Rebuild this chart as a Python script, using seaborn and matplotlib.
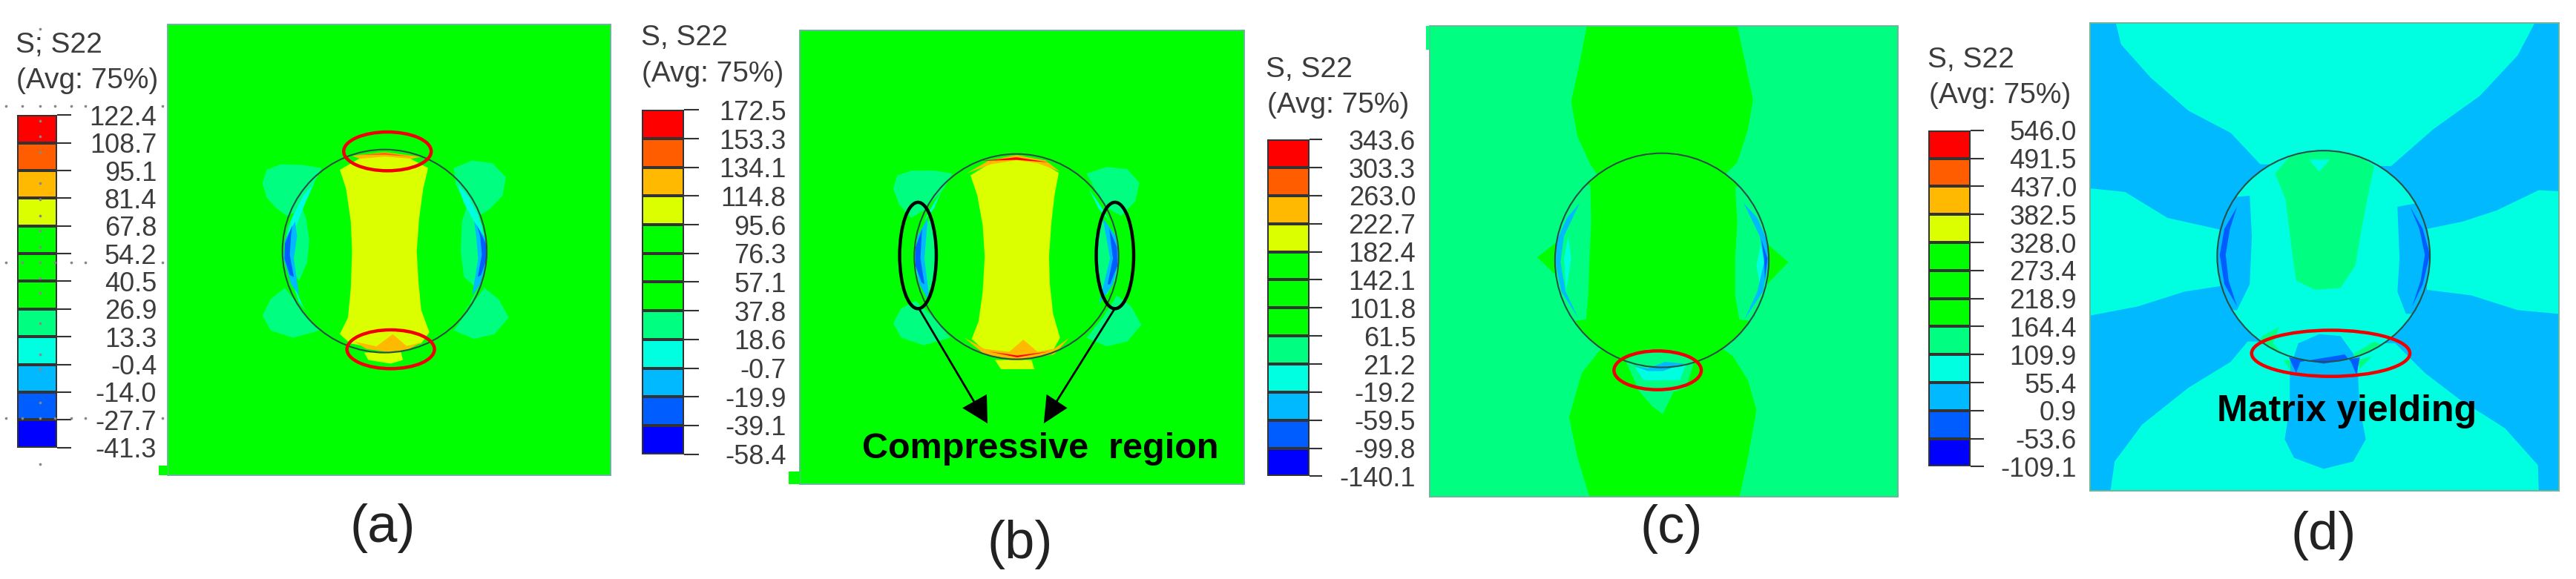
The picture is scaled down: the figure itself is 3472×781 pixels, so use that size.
import numpy as np
import matplotlib
matplotlib.use('Agg')
import matplotlib.pyplot as plt
from matplotlib.colors import ListedColormap, BoundaryNorm
from matplotlib.patches import Ellipse
import seaborn as sns

plt.rcParams['font.family'] = ['Liberation Sans', 'DejaVu Sans']

W, H = 3472, 781

# contour band colours, bottom band first
RED, ORANGE, AMBER, YELLOW = '#ff0000', '#ff5d00', '#ffb900', '#dcff00'
GREEN, TEAL, CYAN, SKY, BLUE, NAVY = '#00ff00', '#00ff80', '#00ffe0', '#00b9ff', '#005dff', '#0000ff'
band_colours = [NAVY, BLUE, SKY, CYAN, TEAL, GREEN, GREEN, GREEN, YELLOW, AMBER, ORANGE, RED]
text_col = '#3c3c3c'
edge_col = '#2d4f45'

# colour bar tick values, top to bottom
levels_a = [122.4, 108.7, 95.1, 81.4, 67.8, 54.2, 40.5, 26.9, 13.3, -0.4, -14.0, -27.7, -41.3]
levels_b = [172.5, 153.3, 134.1, 114.8, 95.6, 76.3, 57.1, 37.8, 18.6, -0.7, -19.9, -39.1, -58.4]
levels_c = [343.6, 303.3, 263.0, 222.7, 182.4, 142.1, 101.8, 61.5, 21.2, -19.2, -59.5, -99.8, -140.1]
levels_d = [546.0, 491.5, 437.0, 382.5, 328.0, 273.4, 218.9, 164.4, 109.9, 55.4, 0.9, -53.6, -109.1]

crop_a = (0, 1.823)
crop_b = (850, 1.823)
crop_c = (1690, 1.742)
crop_d = (2580, 1.758)
y_scale = 2.008

# field x0, x1, y0, y1
box_a = (412, 1500, 67, 1288)
box_b = (416, 1508, 82, 1312)
box_c = (412, 1512, 70, 1346)
box_d = (416, 1527, 63, 1329)

# colour bar x0, x1, y0, y1, tick end, label right
bar_a = (42, 140, 312, 1212, 175, 385)
bar_b = (28, 132, 298, 1230, 168, 382)
bar_c = (32, 130, 378, 1290, 160, 380)
bar_d = (34, 133, 353, 1264, 165, 385)

# inclusion outline cx, cy, rx, ry
circle_a = (945, 680, 251, 275)
circle_b = (948, 695, 251, 278)
circle_c = (958, 705, 251, 290)
circle_d = (970, 694, 252, 286)

yellow_a = [(835, 460), (850, 510), (862, 600), (865, 680), (862, 780), (855, 860), (835, 905), (860, 930),
            (950, 948), (1035, 930), (1055, 900), (1035, 840), (1028, 760), (1024, 680), (1030, 590),
            (1040, 510), (1052, 455), (1000, 425), (945, 418), (890, 425)]
yellow_b = [(835, 475), (852, 530), (865, 610), (870, 695), (865, 790), (855, 870), (838, 918), (865, 945),
            (950, 965), (1040, 945), (1055, 915), (1038, 850), (1030, 770), (1028, 695), (1034, 600),
            (1042, 525), (1052, 468), (1000, 435), (948, 428), (890, 438)]

regions_a = [
    (TEAL, [(790, 455), (745, 447), (690, 445), (655, 460), (645, 495), (655, 535), (680, 565), (705, 585), (725, 575), (770, 500)]),
    (TEAL, [(1115, 455), (1160, 435), (1210, 442), (1243, 480), (1235, 530), (1205, 565), (1170, 590), (1150, 570), (1120, 500)]),
    (TEAL, [(700, 780), (665, 810), (645, 855), (665, 895), (720, 915), (785, 895), (750, 850)]),
    (TEAL, [(1190, 780), (1225, 810), (1250, 860), (1215, 905), (1165, 918), (1115, 895), (1150, 840)]),
    (TEAL, [(735, 545), (752, 590), (760, 650), (755, 710), (735, 760), (705, 720), (700, 680), (705, 620)]),
    (TEAL, [(1150, 550), (1135, 600), (1132, 680), (1140, 750), (1165, 775), (1195, 700), (1185, 610)]),
    (YELLOW, yellow_a),
    (CYAN, [(772, 495), (745, 530), (718, 590), (705, 640), (728, 610), (750, 550)]),
    (CYAN, [(1125, 500), (1150, 530), (1178, 590), (1190, 640), (1165, 600), (1140, 550)]),
    (CYAN, [(720, 770), (745, 830), (760, 850), (735, 820)]),
    (CYAN, [(1180, 770), (1150, 830), (1130, 855), (1160, 815)]),
    (SKY, [(725, 600), (700, 650), (697, 700), (715, 770), (735, 800), (722, 700), (730, 640)]),
    (SKY, [(1165, 600), (1195, 650), (1198, 700), (1180, 770), (1160, 800), (1175, 700), (1170, 640)]),
    (BLUE, [(718, 610), (700, 660), (699, 700), (712, 745), (722, 750), (712, 690), (715, 640)]),
    (BLUE, [(1172, 610), (1194, 660), (1196, 700), (1182, 745), (1174, 750), (1184, 690), (1180, 640)]),
    (AMBER, [(865, 422), (945, 412), (1035, 425), (1010, 430), (945, 424), (885, 430)]),
    (ORANGE, [(885, 420), (945, 414), (1010, 424), (945, 419)]),
    (AMBER, [(870, 925), (925, 938), (965, 905), (1000, 938), (1040, 925), (1000, 948), (950, 953), (900, 945)]),
    (YELLOW, [(895, 955), (905, 975), (960, 985), (990, 975), (985, 953)]),
]

regions_b = [
    (TEAL, [(790, 470), (745, 462), (690, 462), (655, 475), (645, 510), (660, 555), (690, 590), (720, 570), (770, 510)]),
    (TEAL, [(1120, 470), (1170, 452), (1220, 458), (1250, 495), (1240, 545), (1205, 585), (1165, 560)]),
    (TEAL, [(700, 815), (665, 835), (645, 875), (665, 915), (720, 935), (785, 915), (745, 860)]),
    (TEAL, [(1195, 800), (1230, 830), (1255, 880), (1220, 925), (1170, 938), (1120, 915), (1160, 860)]),
    (TEAL, [(735, 590), (750, 640), (752, 700), (745, 770), (725, 800), (700, 740), (700, 670)]),
    (TEAL, [(1155, 590), (1142, 640), (1140, 700), (1150, 770), (1170, 800), (1198, 740), (1198, 670)]),
    (YELLOW, yellow_b),
    (YELLOW, [(895, 975), (910, 1000), (992, 1000), (985, 975)]),
    (CYAN, [(765, 515), (740, 560), (720, 600), (745, 565)]),
    (CYAN, [(1125, 510), (1150, 550), (1178, 600), (1150, 565)]),
    (SKY, [(730, 590), (705, 640), (697, 700), (710, 770), (735, 820), (722, 700)]),
    (SKY, [(1160, 590), (1192, 640), (1200, 700), (1185, 770), (1150, 825), (1178, 700)]),
    (BLUE, [(716, 620), (700, 670), (700, 720), (715, 765), (722, 770), (712, 700)]),
    (BLUE, [(1176, 620), (1195, 670), (1196, 720), (1178, 770), (1172, 770), (1185, 700)]),
    (AMBER, [(825, 470), (880, 435), (948, 420), (1020, 435), (1055, 465), (1000, 442), (948, 434), (885, 445)]),
    (RED, [(860, 436), (948, 426), (1030, 440), (948, 433)]),
    (AMBER, [(820, 915), (870, 945), (930, 953), (965, 920), (1000, 953), (1040, 945), (1078, 915), (1040, 960), (950, 975), (870, 960)]),
    (RED, [(880, 952), (950, 963), (1030, 952), (950, 968)]),
]

# drawn before the circle fill, or clipped to it
outer_c = [
    (GREEN, [(782, 70), (1135, 70), (1150, 150), (1172, 270), (1160, 350), (1135, 440), (1100, 480), (810, 480), (790, 445), (760, 370), (745, 275), (765, 170)]),
    (GREEN, [(788, 1346), (1140, 1346), (1160, 1240), (1180, 1110), (1160, 1030), (1125, 965), (1095, 940), (815, 945), (770, 1010), (740, 1130), (760, 1240)]),
    (GREEN, [(712, 655), (665, 697), (712, 748)]),
    (GREEN, [(1205, 660), (1255, 710), (1205, 770)]),
]
regions_c = [
    (TEAL, [(790, 500), (792, 600), (788, 700), (785, 800), (780, 865), (700, 880), (680, 705), (700, 520)]),
    (TEAL, [(1130, 505), (1135, 600), (1130, 700), (1130, 800), (1140, 865), (1225, 880), (1235, 705), (1220, 520)]),
]
after_c = [
    (TEAL, [(872, 975), (925, 945), (985, 948), (1035, 975), (1015, 1050), (985, 1062), (960, 1122), (935, 1100), (905, 1060)]),
    (CYAN, [(895, 995), (915, 1030), (1000, 1030), (1015, 985), (960, 1000)]),
    (SKY, [(890, 990), (925, 998), (965, 980), (1010, 985), (960, 1005), (925, 1005)]),
    (CYAN, [(738, 640), (745, 700), (733, 790), (728, 700)]),
    (CYAN, [(1190, 660), (1180, 720), (1190, 780), (1200, 720)]),
    (SKY, [(765, 550), (735, 590), (712, 650), (708, 710), (722, 790), (762, 862), (732, 790), (720, 710), (728, 640)]),
    (SKY, [(1150, 550), (1182, 590), (1204, 650), (1208, 710), (1195, 790), (1152, 865), (1182, 790), (1198, 710), (1188, 640)]),
    (BLUE, [(1192, 650), (1206, 700), (1200, 760), (1198, 700)]),
]

outer_d = [
    (CYAN, [(478, 63), (1470, 63), (1430, 150), (1340, 260), (1230, 350), (1130, 450), (820, 445), (750, 360), (650, 300), (560, 210), (490, 120)]),
    (CYAN, [(416, 510), (500, 520), (600, 590), (725, 622), (725, 775), (640, 790), (530, 830), (416, 855)]),
    (CYAN, [(1527, 518), (1480, 515), (1380, 570), (1300, 600), (1215, 620), (1215, 785), (1320, 800), (1430, 840), (1527, 850)]),
    (CYAN, [(465, 1329), (1480, 1329), (1478, 1260), (1400, 1160), (1290, 1080), (1210, 1010), (1140, 930), (790, 925), (750, 980), (650, 1050), (540, 1150), (475, 1250)]),
]
regions_d = [
    (SKY, [(795, 530), (800, 640), (795, 770), (765, 840), (700, 840), (700, 540)]),
    (SKY, [(1145, 560), (1150, 700), (1145, 790), (1165, 850), (1240, 850), (1240, 540)]),
    (TEAL, [(855, 470), (880, 540), (895, 680), (905, 760), (950, 785), (1010, 780), (1045, 720), (1060, 620), (1075, 530), (1090, 450), (1040, 410), (900, 410)]),
    (CYAN, [(935, 432), (985, 432), (960, 465)]),
    (SKY, [(890, 1000), (910, 930), (960, 905), (1010, 910), (1045, 965), (1050, 1000)]),
    (TEAL, [(825, 910), (865, 885), (850, 930), (890, 980), (800, 960)]),
    (TEAL, [(1040, 960), (1090, 925), (1120, 940), (1060, 1000)]),
]
after_d = [
    (SKY, [(890, 975), (890, 1100), (878, 1190), (900, 1240), (970, 1270), (1040, 1250), (1070, 1190), (1055, 1100), (1050, 975)]),
    (BLUE, [(765, 560), (735, 620), (724, 690), (735, 770), (765, 830), (745, 760), (738, 690), (748, 620)]),
    (BLUE, [(1175, 560), (1205, 620), (1222, 690), (1205, 770), (1180, 830), (1200, 760), (1210, 690), (1197, 620)]),
    (TEAL, [(875, 975), (892, 1005), (890, 975)]),
    (TEAL, [(1055, 1000), (1085, 965), (1052, 975)]),
    (BLUE, [(888, 968), (905, 1010), (915, 980), (1020, 960), (1035, 980), (1048, 1015), (1056, 968), (970, 985)]),
]

# red / black marker ellipses: cx, cy, w, h
red_a = [(952, 410, 215, 105), (960, 946, 215, 105)]
black_b = [(706, 692, 90, 288), (1190, 692, 92, 288)]
red_c = [(948, 1003, 205, 105)]
red_d = [(987, 957, 375, 125)]

# arrows of panel b: tail and head triangle
arrow_tails = [(708, 835), (1190, 835)]
arrow_necks = [(845, 1090), (1045, 1090)]
arrow_heads = [[(875, 1068), (815, 1105), (877, 1147)], [(1015, 1147), (1073, 1105), (1022, 1068)]]

# stray grid dots around the first colour bar
dots_x = [15, 55, 98, 135, 175, 210, 400, 15, 55, 98, 135, 175, 210, 400, 15, 55, 98, 135, 175, 210, 400,
          98, 98, 98, 98, 98, 98, 98, 98, 98, 98, 98, 98, 98, 98, 98, 98]
dots_y = [287, 287, 287, 287, 287, 287, 287, 710, 710, 710, 710, 710, 710, 710, 1132, 1132, 1132, 1132, 1132, 1132, 1132,
          78, 328, 370, 412, 495, 540, 585, 625, 668, 752, 793, 876, 960, 1000, 1090, 1258]


def px(crop, x, y):
    return crop[0] + x / crop[1], y / y_scale


def axes_at(x0, x1, y0, y1):
    return fig.add_axes([x0 / W, 1 - y1 / H, (x1 - x0) / W, (y1 - y0) / H])


def colour_bar(levels, bar, crop):
    x0, y0 = px(crop, bar[0], bar[2])
    x1, y1 = px(crop, bar[1], bar[3])
    tick_end = px(crop, bar[4], 0)[0]
    lab_end = px(crop, bar[5], 0)[0]
    ax = axes_at(x0, x1, y0, y1)
    # colour each cell by the middle of its band
    lev = np.array(levels)
    mids = ((lev[:-1] + lev[1:]) / 2).reshape(-1, 1)
    cmap = ListedColormap(band_colours)
    norm = BoundaryNorm(lev[::-1], 12)
    sns.heatmap(mids, ax=ax, cmap=cmap, norm=norm, cbar=False, xticklabels=False,
                linewidths=1.6, linecolor='#333333')
    ax.set_yticks(np.arange(13), [f'{v:.1f}' for v in levels], rotation=0)
    ax.tick_params(axis='y', left=False, labelleft=False, right=True, labelright=True,
                   length=(tick_end - x1) * 0.72, width=1.5, color='#333333',
                   pad=(lab_end - tick_end) * 0.72, labelsize=26, labelcolor=text_col)
    for t in ax.get_yticklabels():
        t.set_horizontalalignment('right')
    return ax


def fill_all(ax, regions, clip=None):
    for col, pts in regions:
        xs, ys = zip(*pts)
        for p in ax.fill(xs, ys, color=col, lw=0):
            if clip is not None:
                p.set_clip_path(clip)


def field(box, crop, base, circle, outer, inner, after, marks, mark_col, inside=GREEN):
    x0, y0 = px(crop, box[0], box[2])
    x1, y1 = px(crop, box[1], box[3])
    ax = axes_at(x0, x1, y0, y1)
    ax.set_xlim(box[0], box[1])
    ax.set_ylim(box[3], box[2])
    ax.set_facecolor(base)
    ax.set_xticks([])
    ax.set_yticks([])
    for s in ax.spines.values():
        s.set_color('#6ab89a')
        s.set_linewidth(1.4)
    fill_all(ax, outer)
    cx, cy, rx, ry = circle
    disc = Ellipse((cx, cy), 2 * rx, 2 * ry, fc=inside, ec='none')
    ax.add_patch(disc)
    fill_all(ax, inner, clip=disc)
    fill_all(ax, after)
    ax.add_patch(Ellipse((cx, cy), 2 * rx, 2 * ry, fc='none', ec=edge_col, lw=1.5))
    for m in marks:
        ax.add_patch(Ellipse((m[0], m[1]), m[2], m[3], fc='none', ec=mark_col, lw=3.2))
    return ax


fig = plt.figure(figsize=(W / 100, H / 100), dpi=100, facecolor='white')

colour_bar(levels_a, bar_a, crop_a)
colour_bar(levels_b, bar_b, crop_b)
colour_bar(levels_c, bar_c, crop_c)
colour_bar(levels_d, bar_d, crop_d)

ax_a = field(box_a, crop_a, GREEN, circle_a, [], [], regions_a, red_a, '#f00000')
ax_b = field(box_b, crop_b, GREEN, circle_b, [], [], regions_b, black_b, 'black')
ax_c = field(box_c, crop_c, TEAL, circle_c, outer_c, regions_c, after_c, red_c, '#f00000')
ax_d = field(box_d, crop_d, SKY, circle_d, outer_d, regions_d, after_d, red_d, '#f00000', inside=CYAN)

for tail, neck, head in zip(arrow_tails, arrow_necks, arrow_heads):
    ax_b.plot([tail[0], neck[0]], [tail[1], neck[1]], color='black', lw=2)
    xs, ys = zip(*head)
    ax_b.fill(xs, ys, color='black', lw=0)

# overlay in image pixels for text and the small notches
over = fig.add_axes([0, 0, 1, 1], facecolor='none')
over.set_xlim(0, W)
over.set_ylim(H, 0)
over.axis('off')

for crop, box, col, nx, ny0, ny1 in [(crop_a, box_a, GREEN, 390, 1262, 1288), (crop_b, box_b, GREEN, 388, 1278, 1312),
                                     (crop_c, box_c, TEAL, 404, 70, 135)]:
    x0, y0 = px(crop, nx, ny0)
    x1, y1 = px(crop, box[0], ny1)
    over.fill([x0, x1, x1, x0], [y0, y0, y1, y1], color=col, lw=0)

heads = [('S; S22', crop_a, 38, 122, 40, 218), ('S, S22', crop_b, 25, 102, 28, 200),
         ('S, S22', crop_c, 28, 188, 32, 285), ('S, S22', crop_d, 32, 162, 35, 260)]
for name, crop, x1_, y1_, x2_, y2_ in heads:
    x, y = px(crop, x1_, y1_)
    over.text(x, y, name, fontsize=28, color=text_col, ha='left', va='center')
    x, y = px(crop, x2_, y2_)
    over.text(x, y, '(Avg: 75%)', fontsize=28, color=text_col, ha='left', va='center')

for name, crop, x_, y_ in [('(a)', crop_a, 940, 1430), ('(b)', crop_b, 957, 1475), ('(c)', crop_c, 980, 1432), ('(d)', crop_d, 970, 1450)]:
    x, y = px(crop, x_, y_)
    over.text(x, y, name, fontsize=52, color='#222222', ha='center', va='center')

x, y = px(crop_b, 1006, 1215)
over.text(x, y, 'Compressive  region', fontsize=35, fontweight='bold', color='black', ha='center', va='center')
x, y = px(crop_d, 1025, 1115)
over.text(x, y, 'Matrix yielding', fontsize=36, fontweight='bold', color='black', ha='center', va='center')

dx, dy = px(crop_a, np.array(dots_x), np.array(dots_y))
sns.scatterplot(x=dx, y=dy, ax=over, color='#888888', s=7, linewidth=0, legend=False)
over.set_xlim(0, W)
over.set_ylim(H, 0)

fig.savefig('out.png', dpi=100)
